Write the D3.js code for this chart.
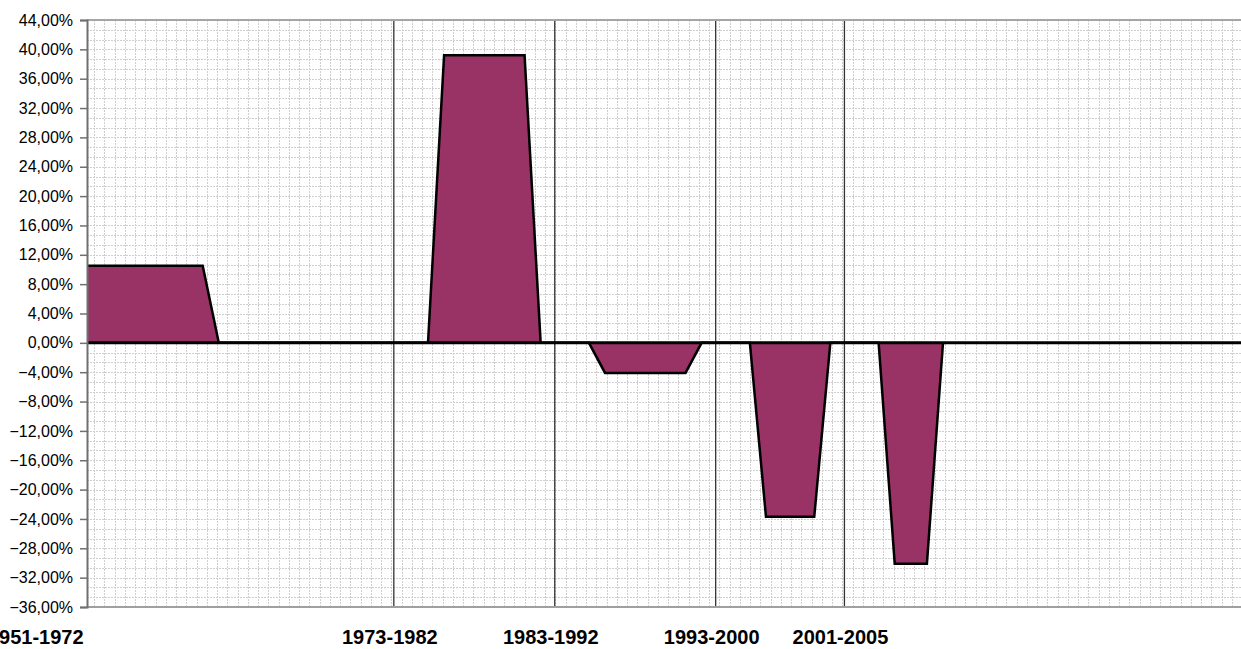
<!DOCTYPE html>
<html>
<head>
<meta charset="utf-8">
<script src="https://cdn.jsdelivr.net/npm/d3@7"></script>
<style>
  html, body { margin: 0; padding: 0; background: #fff; }
  svg { display: block; }
</style>
</head>
<body>
<svg id="chart" width="1241" height="649"></svg>
<script>
// ---- data ----
const years = [
  1953, 1954, 1955, 1956, 1957, 1958, 1959, 1960, 1961,
  1962, 1963, 1964, 1965, 1966, 1967, 1968, 1969, 1970, 1971, 1972, 1973, 1974, 1975,
  1976, 1977, 1978, 1979, 1980, 1981,
  1982, 1983, 1984, 1985,
  1986, 1987, 1988, 1989, 1990, 1991,
  1992, 1993, 1994, 1995,
  1996, 1997, 1998, 1999,
  2000, 2001, 2002, 2003,
  2004, 2005, 2006,
  2007
];
const values = [
  10.5, 10.5, 10.5, 10.5, 10.5, 10.5, 10.5, 10.5, 10.5,
  0, 0, 0, 0, 0, 0, 0, 0, 0, 0, 0, 0, 0, 0,
  39.2, 39.2, 39.2, 39.2, 39.2, 39.2,
  0, 0, 0, 0,
  -4.1, -4.1, -4.1, -4.1, -4.1, -4.1,
  0, 0, 0, 0,
  -23.7, -23.7, -23.7, -23.7,
  0, 0, 0, 0,
  -30.1, -30.1, -30.1,
  0
];
const periods = ["1951-1972", "1973-1982", "1983-1992", "1993-2000", "2001-2005"];
const periodStart = [1951, 1973, 1983, 1993, 2001];
const yTicks = [44, 40, 36, 32, 28, 24, 20, 16, 12, 8, 4, 0, -4, -8, -12, -16, -20, -24, -28, -32, -36];

// ---- layout ----
const plot = { left: 87, right: 1241, top: 20, bottom: 607 };

const svg = d3.select("#chart");

const x = d3.scaleLinear()
  .domain([1975, 2007])
  .range([428, 943]);
const xDomainLeft = x.invert(plot.left), xDomainRight = x.invert(plot.right);

const y = d3.scaleLinear()
  .domain([-36, 44])
  .range([plot.bottom, plot.top]);

// clip
svg.append("defs").append("clipPath").attr("id", "clip")
  .append("rect")
  .attr("x", plot.left).attr("y", plot.top)
  .attr("width", plot.right - plot.left).attr("height", plot.bottom - plot.top);

// ---- grid (dotted pattern) ----
const grid = svg.append("g").attr("clip-path", "url(#clip)");
const hStep = 4 / 3;
const hLines = d3.range(-36 + hStep, 44 - 0.01, hStep);
grid.selectAll("line.h").data(hLines).enter().append("line")
  .attr("x1", plot.left).attr("x2", plot.right)
  .attr("y1", d => Math.round(y(d)) + 0.5).attr("y2", d => Math.round(y(d)) + 0.5)
  .attr("stroke", "#cfcfcf").attr("stroke-width", 1).attr("stroke-dasharray", "2,1");
const vStep = 10.25 / (x(1) - x(0));
const vLines = d3.range(xDomainLeft + vStep * 0.7, xDomainRight, vStep);
grid.selectAll("line.v").data(vLines).enter().append("line")
  .attr("x1", d => Math.round(x(d)) + 0.5).attr("x2", d => Math.round(x(d)) + 0.5)
  .attr("y1", plot.top).attr("y2", plot.bottom)
  .attr("stroke", "#cfcfcf").attr("stroke-width", 1).attr("stroke-dasharray", "2,1");

// ---- period divider lines ----
svg.append("g").selectAll("line").data(periodStart.filter(d => x(d) > plot.left)).enter().append("line")
  .attr("x1", d => x(d) - 2).attr("x2", d => x(d) - 2)
  .attr("y1", plot.top).attr("y2", plot.bottom)
  .attr("stroke", "#333").attr("stroke-width", 1.3);

// ---- area ----
const pts = years.map((yr, i) => ({ yr, v: values[i] }));
const area = d3.area().x(d => x(d.yr)).y0(y(0)).y1(d => y(d.v));
const line = d3.line().x(d => x(d.yr)).y(d => y(d.v));
const ag = svg.append("g").attr("clip-path", "url(#clip)");
ag.append("path").datum(pts).attr("d", area).attr("fill", "#993366");
ag.append("path").datum(pts).attr("d", line).attr("fill", "none")
  .attr("stroke", "#000").attr("stroke-width", 2.5).attr("stroke-linejoin", "miter");

// ---- borders ----
svg.append("line").attr("x1", plot.left).attr("x2", plot.right)
  .attr("y1", plot.top).attr("y2", plot.top)
  .attr("stroke", "#a6a6a6").attr("stroke-width", 2);
svg.append("line").attr("x1", plot.left).attr("x2", plot.right)
  .attr("y1", plot.bottom).attr("y2", plot.bottom)
  .attr("stroke", "#a0a0a0").attr("stroke-width", 2);

// zero line
svg.append("line").attr("x1", plot.left).attr("x2", plot.right)
  .attr("y1", y(0)).attr("y2", y(0))
  .attr("stroke", "#000").attr("stroke-width", 3);

// ---- y axis ----
const yAxis = d3.axisLeft(y).tickValues(yTicks).tickSize(7).tickPadding(7)
  .tickFormat(d => d3.format(".2f")(d).replace(".", ",") + "%");
const ya = svg.append("g").attr("transform", `translate(${plot.left},0)`).call(yAxis);
ya.select(".domain").attr("stroke", "#707070").attr("stroke-width", 2);
ya.selectAll(".tick line").attr("stroke", "#707070").attr("stroke-width", 1.5);
ya.selectAll(".tick text")
  .attr("font-family", "'Liberation Sans', Arial, sans-serif")
  .attr("font-size", 16).attr("fill", "#000");

// ---- period labels ----
svg.append("g").selectAll("text").data(periods).enter().append("text")
  .attr("x", (d, i) => x(periodStart[i]) - 6)
  .attr("y", 644)
  .attr("text-anchor", "middle")
  .attr("font-family", "'Liberation Sans', Arial, sans-serif")
  .attr("font-weight", "bold")
  .attr("font-size", 20)
  .attr("fill", "#000")
  .text(d => d);
</script>
</body>
</html>
